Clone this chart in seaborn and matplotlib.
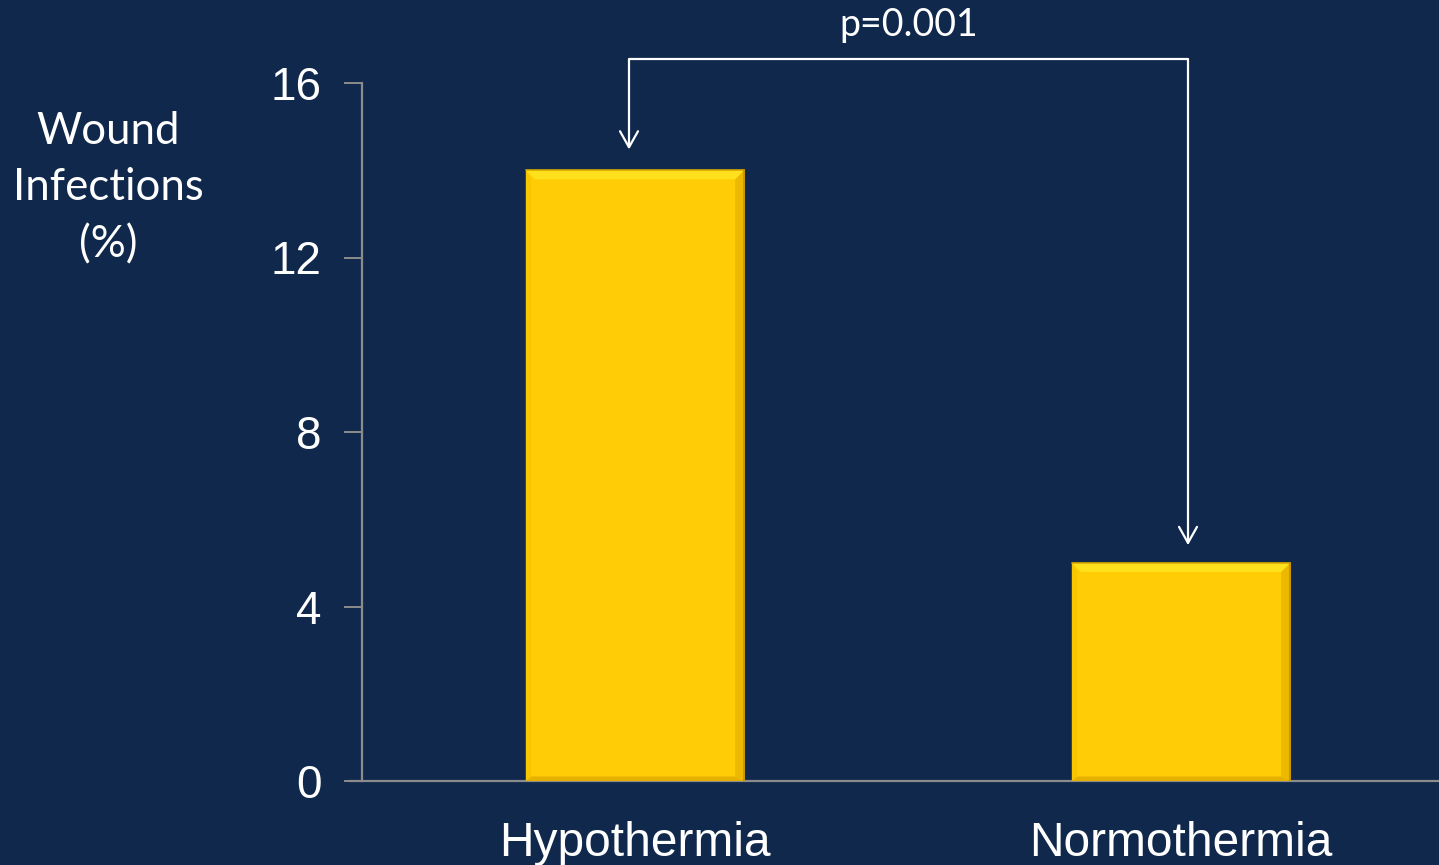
import matplotlib
matplotlib.use("Agg")
import matplotlib.pyplot as plt
import seaborn as sns
import pandas as pd
from matplotlib.patches import Polygon

# Data
groups = ["Hypothermia", "Normothermia"]
infection_pct = [14, 5]
y_ticks = [0, 4, 8, 12, 16]
p_label = "p=0.001"
y_title = "Wound\nInfections\n(%)"

BG = "#0F284C"
BAR = "#FFCC05"
AXIS = "#8C8C8C"

sns.set_theme(style="white")
plt.rcParams["font.family"] = ["Liberation Sans", "DejaVu Sans"]

fig = plt.figure(figsize=(14.39, 8.65), dpi=100, facecolor=BG)
ax = fig.add_axes([362 / 1439, 1 - 781 / 865, 1 - 362 / 1439, 698 / 865])
ax.set_facecolor(BG)

df = pd.DataFrame({"group": groups, "pct": infection_pct})
sns.barplot(data=df, x="group", y="pct", color=BAR, saturation=1,
            width=0.4, ax=ax, edgecolor="none", linewidth=0)

ax.set_ylim(0, 16)
ax.set_xlim(-0.5, 1.4725)
ax.set_yticks(y_ticks)
ax.set_yticklabels([str(t) for t in y_ticks], color="white", fontsize=33)
ax.set_xticks(range(len(groups)))
ax.set_xticklabels(groups, color="white", fontsize=34.5)
ax.set_xlabel("")
ax.set_ylabel("")

for side in ["top", "right"]:
    ax.spines[side].set_visible(False)
for side in ["left", "bottom"]:
    ax.spines[side].set_color(AXIS)
    ax.spines[side].set_linewidth(1.6)
ax.tick_params(axis="y", length=13, width=1.4, color=AXIS, pad=16, left=True)
ax.tick_params(axis="x", length=0, pad=29)
# the baseline runs slightly left of the value axis
ax.plot([-0.5 - 13 / 546, -0.5], [0, 0], color=AXIS, lw=1.6,
        clip_on=False, solid_capstyle="butt")

# bevelled edges on each bar
px_x = 1 / 546.0          # one pixel in x data units
px_y = 16 / 698.0         # one pixel in y data units
bev = 9
for patch in ax.patches:
    x0, w, h = patch.get_x(), patch.get_width(), patch.get_height()
    x1 = x0 + w
    bx, by = bev * px_x, bev * px_y
    top = Polygon([(x0, h), (x1, h), (x1 - bx, h - by), (x0 + bx, h - by)],
                  closed=True, facecolor="#FFE01C", edgecolor="none", zorder=3)
    right = Polygon([(x1, h), (x1, 0), (x1 - bx, by * 0.5), (x1 - bx, h - by)],
                    closed=True, facecolor="#EDB800", edgecolor="none", zorder=3)
    left = Polygon([(x0, h), (x0, 0), (x0 + bx * 0.6, by * 0.5), (x0 + bx * 0.6, h - by)],
                   closed=True, facecolor="#F7C600", edgecolor="none", zorder=3)
    bottom = Polygon([(x0, 0), (x1, 0), (x1 - bx, by * 0.5), (x0 + bx * 0.6, by * 0.5)],
                     closed=True, facecolor="#E5B000", edgecolor="none", zorder=3)
    for poly in (bottom, right, left, top):
        ax.add_patch(poly)
    ax.plot([x0, x1], [h, h], color="#D9A800", lw=1.2, zorder=4)
    ax.plot([x1, x1], [0, h], color="#C89600", lw=1.5, zorder=4)

# significance bracket
bracket_y = 16.55
xl = 0 - 6 * px_x
xr = 1 + 7 * px_x
yl = infection_pct[0] + 23 * px_y
yr = infection_pct[1] + 20 * px_y
ax.plot([xl, xl, xr, xr], [yl, bracket_y, bracket_y, yr],
        color="white", lw=1.6, clip_on=False, zorder=5)
for xa, ya in [(xl, yl), (xr, yr)]:
    ax.plot([xa - 9 * px_x, xa, xa + 9 * px_x], [ya + 16 * px_y, ya, ya + 16 * px_y],
            color="white", lw=1.6, clip_on=False, zorder=5)
ax.text((xl + xr) / 2, bracket_y + 34 * px_y, p_label, color="white",
        fontsize=27, ha="center", va="center", family=["Lato", "DejaVu Sans"],
        clip_on=False)

fig.text(108 / 1439, 1 - 188 / 865, y_title, color="white", fontsize=31.5,
         ha="center", va="center", family=["Lato", "DejaVu Sans"],
         linespacing=1.47)

fig.savefig("out.png", dpi=100, facecolor=BG)
